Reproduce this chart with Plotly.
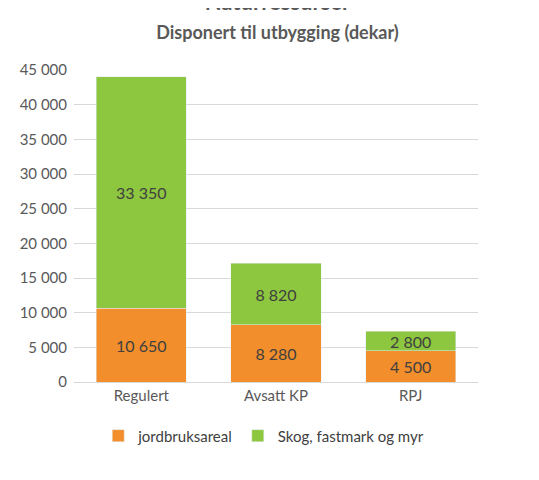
import plotly.graph_objects as go

categories = ["Regulert", "Avsatt KP", "RPJ"]
jordbruk = [10650, 8280, 4500]
skog = [33350, 8820, 2800]
tick_vals = list(range(0, 45001, 5000))
tick_text = [f"{v:,}".replace(",", " ") for v in tick_vals]

def fmt(v):
    return f"{v:,}".replace(",", " ")

fig = go.Figure()
fig.add_trace(go.Bar(x=categories, y=jordbruk, name="jordbruksareal",
                     marker_color="#F28E2B", text=[fmt(v) for v in jordbruk],
                     textposition="inside", insidetextanchor="middle",
                     textfont=dict(color="#404040", size=16)))
fig.add_trace(go.Bar(x=categories, y=skog, name="Skog, fastmark og myr",
                     marker_color="#8DC63F", text=[fmt(v) for v in skog],
                     textposition="inside", insidetextanchor="middle",
                     textfont=dict(color="#404040", size=16)))

fig.update_layout(
    barmode="stack", bargap=0.33,
    width=539, height=480,
    paper_bgcolor="white", plot_bgcolor="white",
    font=dict(family="Lato, sans-serif", size=15, color="#595959"),
    margin=dict(l=55, r=69, t=62, b=106),
    title=dict(text="<b>Naturressurser</b><br><span style='font-size:18px'><b>Disponert til utbygging (dekar)</b></span>",
               x=0.5, xanchor="center", y=0.995, yanchor="top",
               font=dict(size=22, color="#595959")),
    legend=dict(orientation="h", traceorder="normal", x=0.06, y=-0.12,
                xanchor="left", yanchor="top", itemwidth=30,
                font=dict(size=15, color="#404040")),
    uniformtext=dict(minsize=14, mode="show"),
)
fig.update_yaxes(range=[0, 45000], tickvals=tick_vals, ticktext=tick_text,
                 showgrid=True, gridcolor="#D9D9D9", zeroline=False,
                 tickfont=dict(size=15, color="#595959"), ticks="", ticklabelstandoff=6)
fig.update_xaxes(showline=True, linecolor="#D9D9D9", ticks="",
                 tickfont=dict(size=15, color="#595959"))

fig.write_html("out.html")
